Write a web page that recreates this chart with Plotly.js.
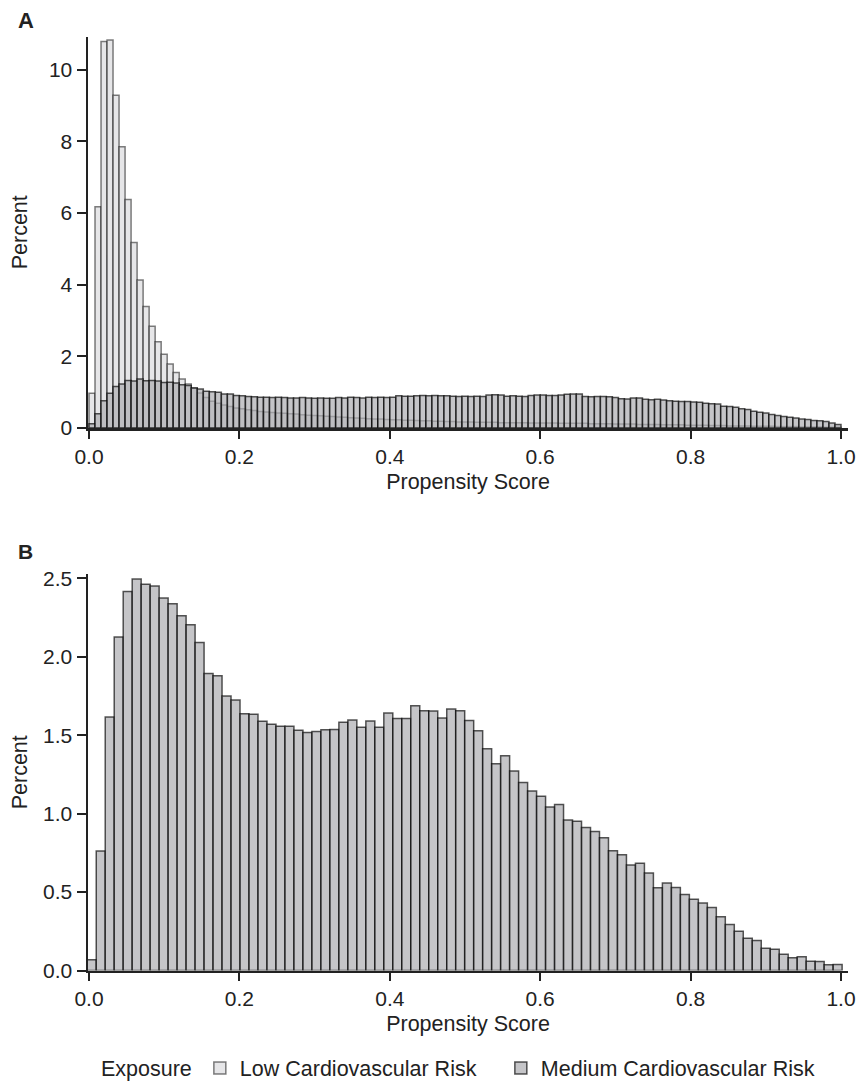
<!DOCTYPE html>
<html>
<head>
<meta charset="utf-8">
<script src="https://cdn.plot.ly/plotly-3.0.1.min.js"></script>
<style>html,body{margin:0;padding:0;background:#fff;}#chart{width:858px;height:1089px;}</style>
</head>
<body>
<div id="chart"></div>
<script>
// ---- Data ----
const seriesNames = ["Low Cardiovascular Risk", "Medium Cardiovascular Risk"];
const legendTitle = "Exposure";
const xTitle = "Propensity Score";
const yTitle = "Percent";
const panelLabels = ["A", "B"];

// Panel A: bins of width 0.008 starting at 0
const binStartA = 0;
const binWidthA = 0.008;
const lowA = [
0.97,6.18,10.79,10.83,9.29,7.85,6.38,5.18,4.13,3.39,
2.84,2.41,2.06,1.79,1.55,1.37,1.23,1.12,0.98,0.85,
0.75,0.69,0.64,0.60,0.56,0.54,0.51,0.49,0.46,0.45,
0.43,0.42,0.41,0.40,0.39,0.37,0.36,0.35,0.34,0.33,
0.32,0.31,0.30,0.29,0.28,0.27,0.26,0.25,0.25,0.24,
0.23,0.23,0.22,0.22,0.21,0.20,0.20,0.19,0.19,0.18,
0.18,0.17,0.17,0.17,0.16,0.16,0.16,0.16,0.15,0.15,
0.15,0.15,0.15,0.14,0.14,0.14,0.14,0.14,0.13,0.13,
0.13,0.13,0.13,0.12,0.12,0.12,0.12,0.11,0.11,0.11,
0.11,0.10,0.10,0.10,0.10,0.09,0.09,0.09,0.09,0.08,
0.08,0.08,0.08,0.07,0.07,0.07,0.06,0.06,0.06,0.06,
0.05,0.05,0.05,0.05,0.04,0.04,0.04,0.04,0.03,0.03,
0.03,0.03,0.02,0.02,0.02
];
const medA = [
0.12,0.40,0.76,0.97,1.16,1.23,1.33,1.31,1.37,1.32,
1.33,1.31,1.27,1.28,1.26,1.21,1.19,1.12,1.09,1.03,
1.01,1.00,0.95,0.95,0.91,0.90,0.88,0.87,0.86,0.86,
0.85,0.86,0.85,0.84,0.84,0.85,0.84,0.83,0.84,0.83,
0.83,0.85,0.84,0.86,0.85,0.84,0.86,0.85,0.86,0.85,
0.86,0.90,0.89,0.89,0.90,0.91,0.90,0.91,0.90,0.90,
0.89,0.88,0.89,0.88,0.89,0.88,0.92,0.93,0.92,0.89,
0.90,0.89,0.88,0.91,0.92,0.92,0.91,0.91,0.92,0.94,
0.95,0.95,0.88,0.87,0.88,0.88,0.87,0.85,0.82,0.81,
0.84,0.84,0.80,0.79,0.80,0.78,0.76,0.75,0.74,0.74,
0.73,0.72,0.69,0.68,0.67,0.61,0.60,0.58,0.54,0.52,
0.47,0.44,0.42,0.38,0.35,0.32,0.30,0.28,0.25,0.24,
0.21,0.20,0.18,0.14,0.10
];

// Panel B: bins of width ~0.01195 starting slightly below 0
const binStartB = -0.0023;
const binWidthB = 0.01195;
const medB = [
0.068,0.761,1.616,2.126,2.416,2.496,2.462,2.451,2.375,2.337,
2.261,2.204,2.090,1.893,1.878,1.749,1.724,1.637,1.633,1.588,
1.569,1.557,1.557,1.531,1.517,1.523,1.534,1.537,1.582,1.597,
1.550,1.590,1.550,1.641,1.607,1.607,1.688,1.656,1.654,1.610,
1.667,1.656,1.593,1.529,1.413,1.318,1.369,1.271,1.199,1.144,
1.110,1.043,1.058,0.960,0.952,0.912,0.886,0.846,0.763,0.738,
0.673,0.683,0.622,0.527,0.558,0.529,0.484,0.455,0.430,0.402,
0.343,0.294,0.250,0.205,0.192,0.142,0.135,0.103,0.082,0.087,
0.059,0.057,0.036,0.038
];

const xTicks = [0, 0.2, 0.4, 0.6, 0.8, 1.0];
const yTicksA = [0, 2, 4, 6, 8, 10];
const yTicksB = [0, 0.5, 1.0, 1.5, 2.0, 2.5];

// ---- Build ----
const centers = (start, w, n) => Array.from({length: n}, (_, i) => start + (i + 0.5) * w);

const FONT = 'Arial, "Liberation Sans", Helvetica, sans-serif';
const INK = '#222222';
const TICK_FS = 21;
const TEXT_FS = 21.5;
const lowFill = 'rgba(226,226,228,0.85)';
const lowLine = 'rgba(0,0,0,0.5)';
const medFill = 'rgba(172,173,176,0.7)';
const medLine = 'rgba(0,0,0,0.66)';

const traces = [
  { type: 'bar', x: centers(binStartA, binWidthA, lowA.length), y: lowA, width: binWidthA,
    name: seriesNames[0], xaxis: 'x', yaxis: 'y', legendgroup: 'low', legendwidth: 256,
    marker: { color: lowFill, line: { color: lowLine, width: 1.5 } }, hoverinfo: 'skip' },
  { type: 'bar', x: centers(binStartA, binWidthA, medA.length), y: medA, width: binWidthA,
    name: seriesNames[1], xaxis: 'x', yaxis: 'y', legendgroup: 'med',
    marker: { color: medFill, line: { color: medLine, width: 1.5 } }, hoverinfo: 'skip' },
  { type: 'bar', x: centers(binStartB, binWidthB, medB.length), y: medB, width: binWidthB,
    name: seriesNames[1], xaxis: 'x2', yaxis: 'y2', legendgroup: 'med', showlegend: false,
    marker: { color: medFill, line: { color: medLine, width: 1.5 } }, hoverinfo: 'skip' }
];

const H = 1089, L = 88, R = 10;
const PW = 858 - L - R;
const py = (px) => 1 - px / H;

const xAxisBase = {
  range: [-0.0013, 1.0093], tickvals: xTicks, tickformat: '.1f',
  showline: true, linecolor: INK, linewidth: 2.5, ticks: 'outside', ticklen: 8, tickwidth: 2,
  tickcolor: INK, showgrid: false, zeroline: false, fixedrange: true,
  tickfont: { family: FONT, size: TICK_FS, color: INK },
  title: { text: xTitle, font: { family: FONT, size: TEXT_FS, color: INK }, standoff: 7 }
};
const yAxisBase = {
  showline: true, linecolor: INK, linewidth: 2.5, ticks: 'outside', ticklen: 9, tickwidth: 2,
  tickcolor: INK, showgrid: false, zeroline: false, fixedrange: true,
  tickfont: { family: FONT, size: TICK_FS, color: INK }
};

const layout = {
  width: 858, height: H,
  margin: { l: L, r: R, t: 0, b: 0 },
  paper_bgcolor: '#fff', plot_bgcolor: '#fff',
  barmode: 'overlay', bargap: 0,
  font: { family: FONT, size: TEXT_FS, color: INK },
  xaxis: Object.assign({}, xAxisBase, { domain: [0, 1], anchor: 'y' }),
  yaxis: Object.assign({}, yAxisBase, { domain: [py(430), py(36.7)], anchor: 'x',
    range: [0, 10.93], tickvals: yTicksA,
    title: { text: yTitle, font: { family: FONT, size: TEXT_FS, color: INK }, standoff: 16 } }),
  xaxis2: Object.assign({}, xAxisBase, { domain: [0, 1], anchor: 'y2' }),
  yaxis2: Object.assign({}, yAxisBase, { domain: [py(975), py(576.7)], anchor: 'x2',
    range: [0, 2.527], tickvals: yTicksB, tickformat: '.1f',
    title: { text: yTitle, font: { family: FONT, size: TEXT_FS, color: INK }, standoff: 10 } }),
  showlegend: true,
  legend: {
    orientation: 'h', x: (99 - L) / PW, xanchor: 'left', y: py(1073), yanchor: 'middle',
    font: { family: FONT, size: TEXT_FS, color: INK },
    title: { text: legendTitle, side: 'left', font: { family: FONT, size: TEXT_FS, color: INK } },
    bgcolor: 'rgba(0,0,0,0)', itemclick: false, itemdoubleclick: false
  },
  annotations: [
    { text: '<b>' + panelLabels[0] + '</b>', xref: 'paper', yref: 'paper', x: (16 - L) / PW, y: py(21),
      xanchor: 'left', yanchor: 'middle', showarrow: false, font: { family: FONT, size: 22, color: INK } },
    { text: '<b>' + panelLabels[1] + '</b>', xref: 'paper', yref: 'paper', x: (16 - L) / PW, y: py(554),
      xanchor: 'left', yanchor: 'middle', showarrow: false, font: { family: FONT, size: 21, color: INK } }
  ]
};

Plotly.newPlot('chart', traces, layout, { displayModeBar: false, staticPlot: true });
</script>
</body>
</html>
